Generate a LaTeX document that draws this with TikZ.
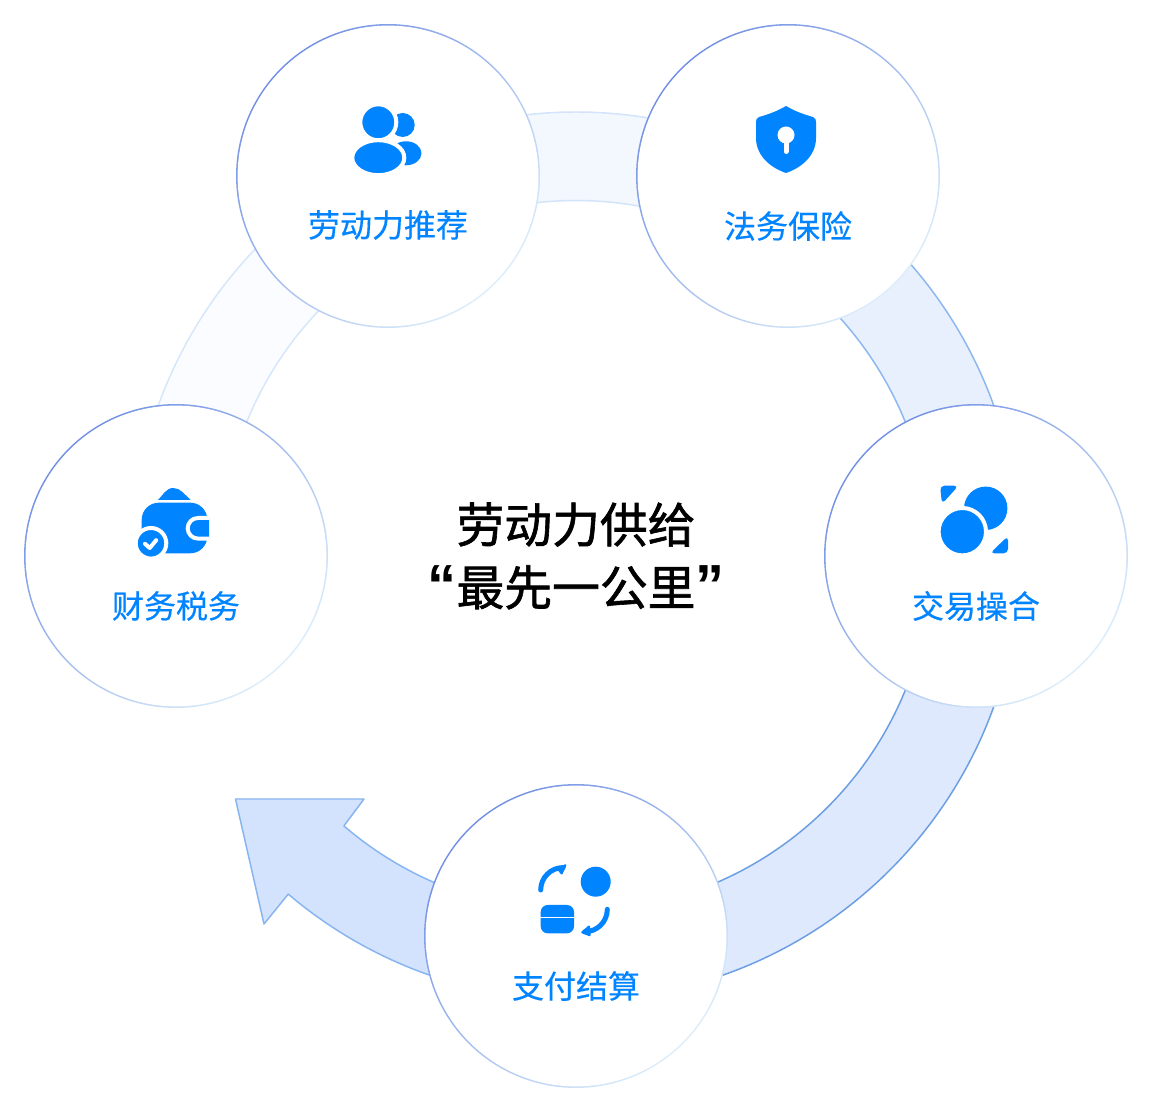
\documentclass[tikz,border=0pt]{standalone}
\usepackage{fontspec}
\setmainfont{Noto Sans CJK SC}
\newfontfamily\labelfont[FakeBold=0.35]{Noto Sans CJK SC}
\newfontfamily\titlefont[FakeBold=1.3]{Noto Sans CJK SC}
\newfontfamily\quotefont{Liberation Sans}
\usetikzlibrary{calc,positioning}
\definecolor{brandblue}{HTML}{0084FF}
\definecolor{edgedark}{HTML}{7190E4}
\definecolor{edgepale}{HTML}{DCEEFB}
\definecolor{fillfaint}{HTML}{FBFCFF}
\definecolor{linefaint}{HTML}{D6E7F9}
\definecolor{filltop}{HTML}{F3F7FE}
\definecolor{linetop}{HTML}{D3E4FA}
\definecolor{fillright}{HTML}{E9F0FD}
\definecolor{lineright}{HTML}{8DB8EF}
\definecolor{filllow}{HTML}{DFE9FD}
\definecolor{linelow}{HTML}{6C9FE2}
\definecolor{fillarrow}{HTML}{D4E3FD}
\definecolor{linearrow}{HTML}{88B5F0}
\newcommand{\ringseg}[4]{%
  \fill[#3] ($(o)+(#1:444)$) arc[start angle=#1, end angle=#2, radius=444]
    -- ($(o)+(#2:355.5)$) arc[start angle=#2, end angle=#1, radius=355.5] -- cycle;
  \draw[line width=0.85pt, draw=#4] ($(o)+(#1:444)$) arc[start angle=#1, end angle=#2, radius=444]
    ($(o)+(#2:355.5)$) arc[start angle=#2, end angle=#1, radius=355.5];}
\newcommand{\titlequote}[1]{{\quotefont\bfseries\fontsize{33pt}{35.7pt}\selectfont #1}}
\begin{document}
\begin{tikzpicture}[
    x=0.02cm, y=0.02cm,
    hub/.style={circle, minimum size=6.08cm, inner sep=0pt, top color=edgedark, bottom color=edgepale, shading angle=45,
      path picture={\fill[white] (path picture bounding box.center) circle (150.4);}},
    hublabel/.style={text=brandblue, font=\fontsize{18.2pt}{22pt}\selectfont\labelfont, inner sep=0pt},
    glyph/.style={fill=brandblue},
    cutglyph/.style={fill=brandblue, draw=white, line width=0.08cm},
    hole/.style={fill=white}
  ]
    \useasboundingbox (0,0) rectangle (1152,1112);
    \coordinate (o) at (576,556);
    \ringseg{180}{116}{fillfaint}{linefaint}
    \ringseg{116}{64}{filltop}{linetop}
    \ringseg{64}{0}{fillright}{lineright}
    \ringseg{0}{-90}{filllow}{linelow}
    \draw[line width=0.85pt, fill=fillarrow, draw=linearrow, line join=round]
      ($(o)+(270:444)$) arc[start angle=270, end angle=229.6, radius=444]
      -- (264,188) -- (235.5,313) -- (364,313) -- ($(o)+(229.3:356)$)
      arc[start angle=229.3, end angle=270, radius=356] -- cycle;
    \node[hub] (recruit) at (388,936) {};
    \node[hub] (legal) at (788,936) {};
    \node[hub] (match) at (976,556) {};
    \node[hub] (pay) at (576,176) {};
    \node[hub] (tax) at (176,556) {};
    \node[hublabel] (recruitlbl) at ([yshift=-0.98cm]recruit.center) {劳动力推荐};
    \node[hublabel] (legallbl) at ([yshift=-1cm]legal.center) {法务保险};
    \node[hublabel] (matchlbl) at ([yshift=-1cm]match.center) {交易操合};
    \node[hublabel] (paylbl) at ([yshift=-1cm]pay.center) {支付结算};
    \node[hublabel] (taxlbl) at ([yshift=-1cm]tax.center) {财务税务};
    \node[align=center, inner sep=0pt, font=\fontsize{27.2pt}{35.7pt}\selectfont\titlefont] (title) at (o)
      {劳动力供给\\\titlequote{“}最先一公里\titlequote{”}};
    % people
    \begin{scope}[shift={(recruit.center)}]
      \fill[glyph] (14.7,51) circle (12);
      \fill[glyph] (18,22.7) ellipse [x radius=15.5, y radius=12];
      \path[cutglyph] (-9.7,53.7) circle (18);
      \path[cutglyph] (-9.7,18.3) ellipse [x radius=26, y radius=17.5];
    \end{scope}
    % shield
    \begin{scope}[shift={(legal.center)}, xshift=-0.04cm]
      \fill[glyph] (0,70) .. controls (10,64) and (20,61) .. (27,59) .. controls (29.5,58) and (30,56) .. (30,54)
        -- (30,38) .. controls (30,20) and (15,8) .. (0,3) .. controls (-15,8) and (-30,20) .. (-30,38)
        -- (-30,54) .. controls (-30,56) and (-29.5,58) .. (-27,59) .. controls (-20,61) and (-10,64) .. (0,70) -- cycle;
      \fill[hole] (0,41) circle (8.5);
      \draw[white, line width=0.1cm, line cap=round] (0,41) -- (0,24.5);
    \end{scope}
    % two discs
    \begin{scope}[shift={(match.center)}]
      \fill[glyph] (9.7,47.7) circle (21.7);
      \path[cutglyph] (-13.7,24.3) circle (23.7);
      \fill[glyph, rounded corners=0.09cm] (-36,70.3) -- (-17.5,70.3) -- (-34,52) -- cycle;
      \fill[glyph, rounded corners=0.09cm] (32,20) -- (32,2.6) -- (14,2.6) -- cycle;
    \end{scope}
    % card and coin
    \begin{scope}[shift={(pay.center)}]
      \fill[glyph] (19.7,54.3) circle (15);
      \fill[glyph, rounded corners=0.14cm] (-35.3,2.7) rectangle (-2,31);
      \fill[hole] (-36,17.5) rectangle (-1,19.3);
      \draw[brandblue, line width=0.1cm, line cap=round] (-35.3,46) arc[start angle=180, end angle=90, radius=22.4];
      \fill[glyph, draw=brandblue, line width=0.04cm, line join=round] (-10.6,70.8) -- (-17.5,66.5) -- (-14.3,62.5) -- cycle;
      \draw[brandblue, line width=0.1cm, line cap=round] (31.3,26.7) arc[start angle=0, end angle=-90, radius=22.4];
      \fill[glyph, draw=brandblue, line width=0.04cm, line join=round] (6.2,3.6) -- (13,9.5) -- (13.6,0.8) -- cycle;
    \end{scope}
    % wallet
    \begin{scope}[shift={(tax.center)}]
      \fill[glyph] (-18,56) .. controls (-13,61) and (-10,68) .. (-2.7,68) .. controls (4.6,68) and (9,61) .. (14.5,56) -- cycle;
      \fill[glyph, rounded corners=0.34cm] (-34.3,2.7) rectangle (31.3,53.3);
      \path[cutglyph] (33,38) -- (22,38) arc[start angle=90, end angle=270, radius=10.3] -- (33,17.4);
      \path[fill=brandblue, draw=white, line width=0.08cm] (-25,12.7) circle (15.3);
      \draw[white, line width=0.08cm, line cap=round, line join=round] (-31,12.2) -- (-26.3,8) -- (-19.8,15.8);
    \end{scope}
\end{tikzpicture}
\end{document}
